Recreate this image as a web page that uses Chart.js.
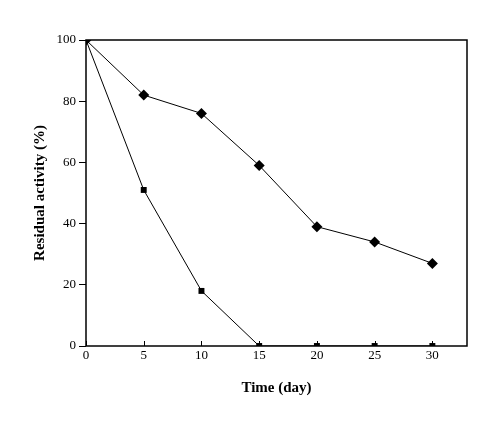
<!DOCTYPE html>
<html>
<head>
<meta charset="utf-8">
<script src="https://cdn.jsdelivr.net/npm/chart.js@4.4.0/dist/chart.umd.min.js"></script>
<style>
  html, body { margin: 0; padding: 0; background: #fff; }
  #wrap { width: 494px; height: 425px; }
</style>
</head>
<body>
<div id="wrap"><canvas id="chart" width="494" height="425"></canvas></div>
<script>
// Data
const days = [0, 5, 10, 15, 20, 25, 30];
const diamondSeries = [100, 82, 76, 59, 39, 34, 27];
const squareSeries = [100, 51, 18, 0, 0, 0, 0];
const xTickValues = [0, 5, 10, 15, 20, 25, 30];
const yTickValues = [0, 20, 40, 60, 80, 100];

const toPoints = (xs, ys) => xs.map((x, i) => ({ x: x, y: ys[i] }));

// frame round the plot and inward ticks on the x axis
const framePlugin = {
    id: 'frame',
    afterDraw(chart) {
        const ctx = chart.ctx;
        const a = chart.chartArea;
        const xs = chart.scales.x;
        ctx.save();
        ctx.strokeStyle = '#000';
        ctx.lineWidth = 1.5;
        ctx.strokeRect(a.left, a.top, a.right - a.left, a.bottom - a.top);
        ctx.lineWidth = 1;
        xTickValues.forEach(v => {
            const px = Math.round(xs.getPixelForValue(v)) + 0.5;
            ctx.beginPath();
            ctx.moveTo(px, a.bottom);
            ctx.lineTo(px, a.bottom - 5);
            ctx.stroke();
        });
        ctx.restore();
    }
};

const ctx = document.getElementById('chart').getContext('2d');
const chart = new Chart(ctx, {
    type: 'line',
    data: {
        datasets: [
            {
                label: 'Diamond',
                data: toPoints(days, diamondSeries),
                borderColor: '#000',
                backgroundColor: '#000',
                borderWidth: 1,
                pointStyle: 'rectRot',
                pointRadius: 5.5,
                pointBorderWidth: 0,
                tension: 0
            },
            {
                label: 'Square',
                data: toPoints(days, squareSeries),
                borderColor: '#000',
                backgroundColor: '#000',
                borderWidth: 1,
                pointStyle: 'rect',
                pointRadius: 4.2,
                pointBorderWidth: 0,
                tension: 0
            }
        ]
    },
    options: {
        responsive: false,
        animation: false,
        layout: { padding: { left: 0, top: 40, right: 27, bottom: 0 } },
        plugins: {
            legend: { display: false },
            tooltip: { enabled: false }
        },
        scales: {
            x: {
                type: 'linear',
                min: 0,
                max: 33,
                afterFit: s => { s.height = 79; },
                afterBuildTicks: s => { s.ticks = xTickValues.map(v => ({ value: v })); },
                grid: { display: false, drawTicks: false },
                border: { display: false },
                ticks: {
                    color: '#000',
                    padding: 2,
                    maxRotation: 0,
                    font: { family: 'Liberation Serif', size: 13 }
                },
                title: {
                    display: true,
                    text: 'Time (day)',
                    color: '#000',
                    padding: { top: 28, bottom: 28 },
                    font: { family: 'Liberation Serif', size: 15, weight: 'bold' }
                }
            },
            y: {
                min: 0,
                max: 100,
                afterFit: s => { s.width = 86; },
                afterBuildTicks: s => { s.ticks = yTickValues.map(v => ({ value: v })); },
                grid: {
                    drawOnChartArea: false,
                    drawTicks: true,
                    tickLength: 7,
                    color: '#000'
                },
                border: { display: false },
                ticks: {
                    color: '#000',
                    padding: 3,
                    font: { family: 'Liberation Serif', size: 13 }
                },
                title: {
                    display: true,
                    text: 'Residual activity (%)',
                    color: '#000',
                    padding: { top: 31, bottom: 31 },
                    font: { family: 'Liberation Serif', size: 15, weight: 'bold' }
                }
            }
        }
    },
    plugins: [framePlugin]
});
</script>
</body>
</html>
